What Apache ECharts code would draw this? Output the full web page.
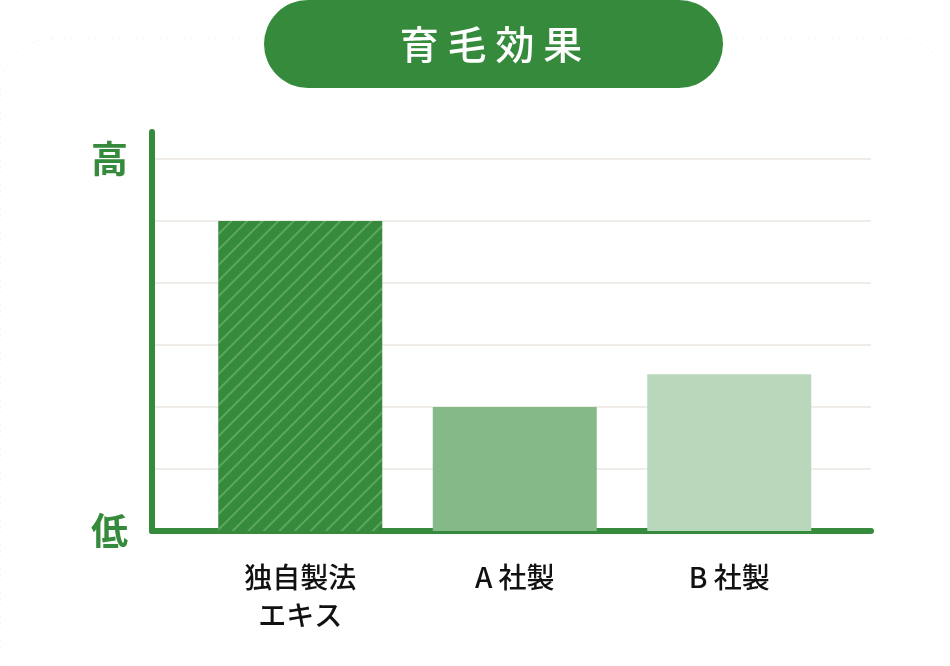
<!DOCTYPE html>
<html><head><meta charset="utf-8">
<script src="https://cdn.jsdelivr.net/npm/echarts@6/dist/echarts.min.js"></script>
<style>html,body{margin:0;padding:0;background:#fff}#c{width:950px;height:666px}</style>
</head><body><div id="c"></div>
<script>
const title = '育 毛 効 果';
const categories = ['独自製法\nエキス', 'A 社製', 'B 社製'];
const values = [5, 2, 2.53];
const yLabelTop = '高';
const yLabelBottom = '低';
const yMaxTick = 6;

const green = '#358b3b';
const barColors = [green, '#85b987', '#b9d7bb'];

const chart = echarts.init(document.getElementById('c'));
const yMax = 6.435;
chart.setOption({
  backgroundColor: '#fff',
  animation: false,
  graphic: [
    { type: 'rect', z: -10, shape: { x: 0.5, y: 38.5, width: 949, height: 660, r: 52 },
      style: { fill: '#fff', stroke: '#eeeeee', lineWidth: 1, lineDash: [1, 5] } },
    { type: 'rect', shape: { x: 264, y: 0, width: 459, height: 88, r: 44 }, style: { fill: green } },
    { type: 'text', x: 491, y: 44, style: { text: title, fill: '#fff', font: '500 39px "Noto Sans CJK JP"', align: 'center', verticalAlign: 'middle' } }
  ],
  grid: [
    { left: 152, right: 79, top: 132, bottom: 135 },
    { left: 193, right: 113.5, top: 132, bottom: 135 }
  ],
  xAxis: [
    { gridIndex: 0, type: 'value', min: 0, max: 1, axisLine: { show: true, lineStyle: { color: green, width: 6 } },
      axisTick: { show: false }, axisLabel: { show: false }, splitLine: { show: false } },
    { gridIndex: 1, type: 'category', data: categories, axisLine: { show: false }, axisTick: { show: false },
      axisLabel: { margin: 27, color: '#111', fontSize: 28, fontWeight: 500, lineHeight: 38, fontFamily: '"Noto Sans CJK JP"', verticalAlign: 'top' } }
  ],
  yAxis: [
    { gridIndex: 0, type: 'value', min: 0, max: yMax, interval: 1,
      axisLine: { show: true, lineStyle: { color: green, width: 6 } }, axisTick: { show: false },
      splitLine: { show: true, showMinLine: false, showMaxLine: false, lineStyle: { color: '#f0ede8', width: 2 } },
      axisLabel: { margin: 24, color: green, fontSize: 37, fontWeight: 'bold', fontFamily: '"Noto Sans CJK JP"',
        formatter: v => v === 0 ? yLabelBottom : (v === yMaxTick ? yLabelTop : '') } },
    { gridIndex: 1, type: 'value', min: 0, max: yMax, show: false, splitLine: { show: false } }
  ],
  series: [{
    type: 'bar', xAxisIndex: 1, yAxisIndex: 1, barWidth: 164, z: 1,
    data: values.map((v, i) => {
      const item = { value: v, itemStyle: { color: barColors[i] } };
      if (i === 0) item.itemStyle.decal = { symbol: 'rect', color: 'rgba(140,200,140,0.45)', dashArrayX: [[1, 0]], dashArrayY: [2, 9], rotation: -Math.PI / 4 };
      return item;
    })
  }]
});
</script></body></html>
